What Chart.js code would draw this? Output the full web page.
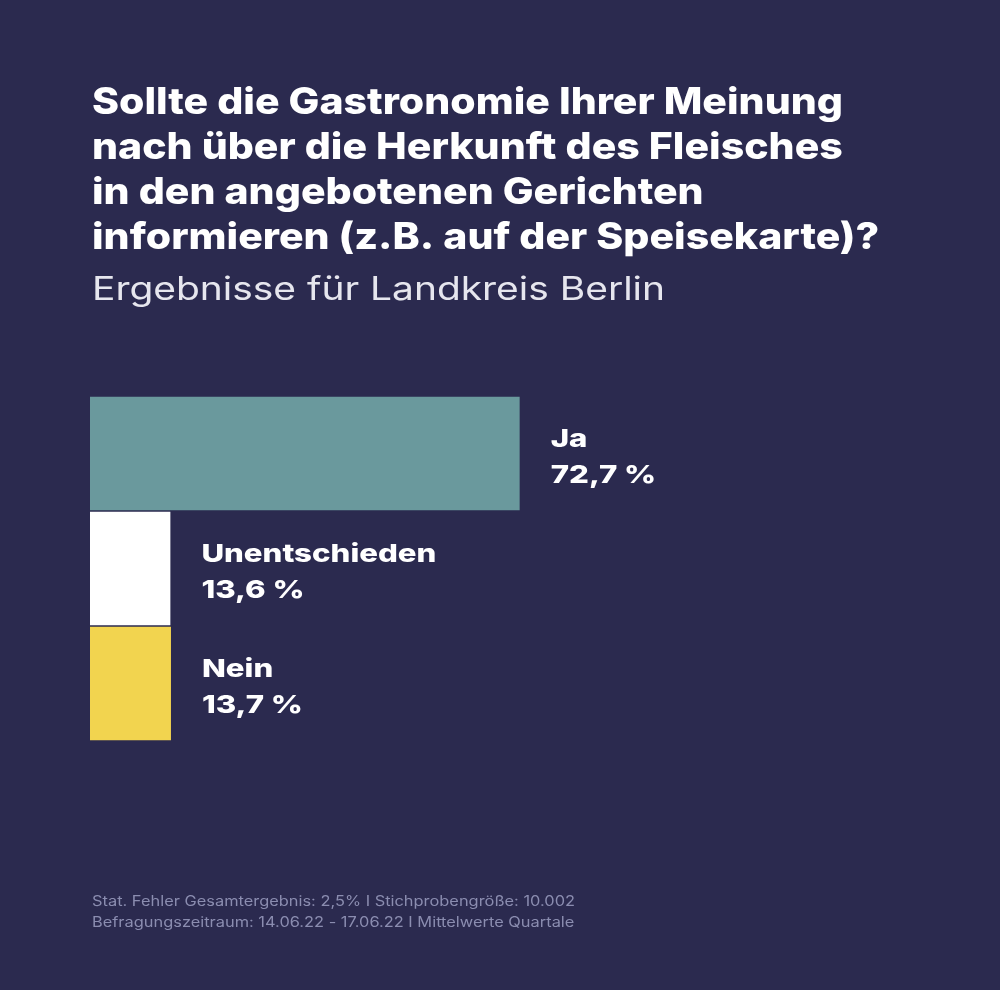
<!DOCTYPE html>
<html>
<head>
<meta charset="utf-8">
<script src="https://cdn.jsdelivr.net/npm/chart.js@4"></script>
<style>
  html, body { margin: 0; padding: 0; background: #2b2a4f; }
  #wrap { width: 1000px; height: 990px; position: relative; }
</style>
</head>
<body>
<div id="wrap"><canvas id="myChart" width="1000" height="990"></canvas></div>
<script>
// data
var categories = ["Ja", "Unentschieden", "Nein"];
var shares = [72.7, 13.6, 13.7];
var barColors = ["#6a999d", "#ffffff", "#f2d44f"];

var titleLines = [
    "Sollte die Gastronomie Ihrer Meinung",
    "nach über die Herkunft des Fleisches",
    "in den angebotenen Gerichten",
    "informieren (z.B. auf der Speisekarte)?"
];
var subtitle = "Ergebnisse für Landkreis Berlin";
var footerLines = [
    "Stat. Fehler Gesamtergebnis: 2,5% I Stichprobengröße: 10.002",
    "Befragungszeitraum: 14.06.22 - 17.06.22 I Mittelwerte Quartale"
];

var FONT = "Inter, Roboto, 'Noto Sans', sans-serif";

function fmt(v) {
    return v.toFixed(1).replace(".", ",") + " %";
}

// the original font is wider than Inter, so stretch text sideways
function wideText(ctx, text, x, y, sx) {
    ctx.save();
    ctx.translate(x, y);
    ctx.scale(sx, 1);
    ctx.fillText(text, 0, 0);
    ctx.restore();
}

function stretchFor(ctx, text, target) {
    return target / ctx.measureText(text).width;
}

var textPlugin = {
    id: "texts",
    beforeDraw: function (chart) {
        var ctx = chart.ctx;
        ctx.save();
        ctx.fillStyle = "#2b2a4f";
        ctx.fillRect(0, 0, chart.width, chart.height);
        ctx.textAlign = "left";
        ctx.textBaseline = "alphabetic";

        ctx.fillStyle = "#ffffff";
        ctx.font = "800 37px " + FONT;
        var sx = stretchFor(ctx, titleLines[0], 751);
        for (var i = 0; i < titleLines.length; i++) {
            wideText(ctx, titleLines[i], 92, 114 + i * 45, sx);
        }

        ctx.fillStyle = "#e6e6ee";
        ctx.font = "32px " + FONT;
        wideText(ctx, subtitle, 92, 300, stretchFor(ctx, subtitle, 573));

        ctx.fillStyle = "#8b8db0";
        ctx.font = "14px " + FONT;
        var fx = stretchFor(ctx, footerLines[0], 483);
        for (var j = 0; j < footerLines.length; j++) {
            wideText(ctx, footerLines[j], 92, 906 + j * 21, fx);
        }
        ctx.restore();
    }
};

// category name + value to the right of each bar
var labelPlugin = {
    id: "barLabels",
    afterDatasetsDraw: function (chart) {
        var ctx = chart.ctx;
        var meta = chart.getDatasetMeta(0);
        ctx.save();
        ctx.fillStyle = "#ffffff";
        ctx.font = "800 25px " + FONT;
        ctx.textAlign = "left";
        ctx.textBaseline = "alphabetic";
        var lx = stretchFor(ctx, "Unentschieden", 235);
        meta.data.forEach(function (bar, i) {
            var x = bar.x + 31;
            wideText(ctx, categories[i], x, bar.y - 7, lx);
            wideText(ctx, fmt(shares[i]), x, bar.y + 29, lx);
        });
        ctx.restore();
    }
};

var ctx = document.getElementById("myChart").getContext("2d");
var myChart = new Chart(ctx, {
    type: "bar",
    data: {
        labels: categories,
        datasets: [{
            data: shares,
            backgroundColor: barColors,
            borderWidth: 0,
            barPercentage: 1,
            categoryPercentage: 0.985
        }]
    },
    options: {
        indexAxis: "y",
        responsive: false,
        animation: false,
        layout: {
            padding: { left: 90, right: 319, top: 396, bottom: 249 }
        },
        scales: {
            x: { display: false, min: 0, max: 100 },
            y: { display: false }
        },
        plugins: {
            legend: { display: false },
            tooltip: { enabled: false }
        }
    },
    plugins: [textPlugin, labelPlugin]
});
</script>
</body>
</html>
